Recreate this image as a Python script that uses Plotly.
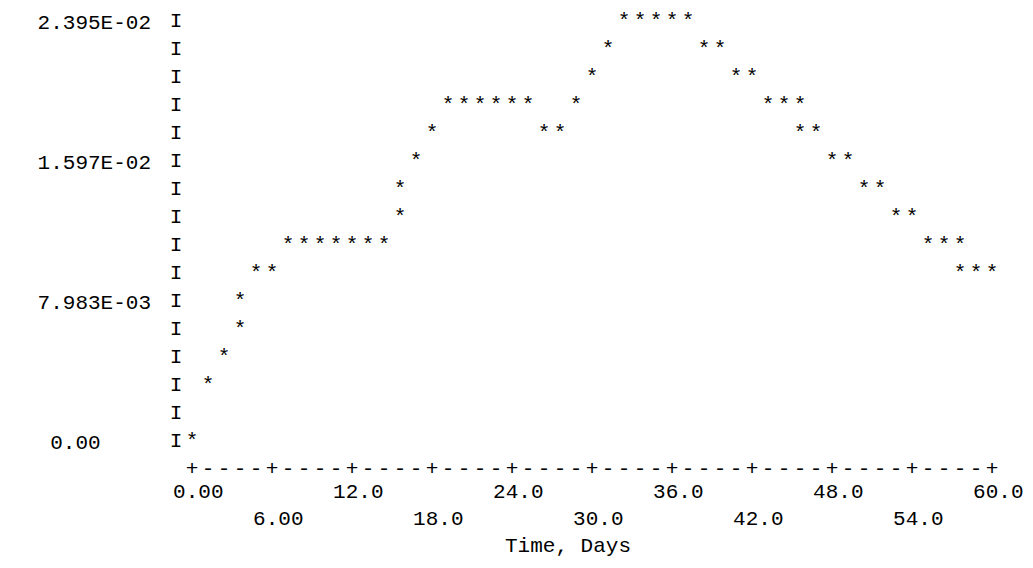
import plotly.graph_objects as go

# Line-printer style plot of a quantity against time
FONT = "Courier New, Liberation Mono, monospace"

days = [0.0, 1.2, 2.4, 3.6, 3.6, 4.8, 6.0,
        7.2, 8.4, 9.6, 10.8, 12.0, 13.2, 14.4,
        15.6, 15.6, 16.8, 18.0,
        19.2, 20.4, 21.6, 22.8, 24.0, 25.2,
        26.4, 27.6, 28.8, 30.0, 31.2,
        32.4, 33.6, 34.8, 36.0, 37.2,
        38.4, 39.6, 40.8, 42.0,
        43.2, 44.4, 45.6, 45.6, 46.8,
        48.0, 49.2, 50.4, 51.6, 52.8, 54.0,
        55.2, 56.4, 57.6, 57.6, 58.8, 60.0]

values = [0.0, 0.00319, 0.00479, 0.00639, 0.00798, 0.00958, 0.00958,
          0.01118, 0.01118, 0.01118, 0.01118, 0.01118, 0.01118, 0.01118,
          0.01277, 0.01437, 0.01597, 0.01756,
          0.01916, 0.01916, 0.01916, 0.01916, 0.01916, 0.01916,
          0.01756, 0.01756, 0.01916, 0.02076, 0.02235,
          0.02395, 0.02395, 0.02395, 0.02395, 0.02395,
          0.02235, 0.02235, 0.02076, 0.02076,
          0.01916, 0.01916, 0.01916, 0.01756, 0.01756,
          0.01597, 0.01597, 0.01437, 0.01437, 0.01277, 0.01277,
          0.01118, 0.01118, 0.01118, 0.00958, 0.00958, 0.00958]

x_ticks = [0, 6, 12, 18, 24, 30, 36, 42, 48, 54, 60]
x_labels = ["0.00", "6.00", "12.0", "18.0", "24.0", "30.0",
            "36.0", "42.0", "48.0", "54.0", "60.0"]

y_ticks = [0.02395, 0.01597, 0.007983, 0.0]
y_labels = ["2.395E-02", "1.597E-02", "7.983E-03", " 0.00    "]

y_max = 0.02395
n_rows = 15
row = y_max / n_rows       # one printer line
col = 1.2                  # one printer column (days)
nb = "\u00a0"

fig = go.Figure()

# the plotted points
fig.add_trace(go.Scatter(
    x=days, y=values, mode="text", text=["*"] * len(days),
    textposition="middle center",
    textfont=dict(family=FONT, size=21, color="black"),
    hoverinfo="skip", showlegend=False))

# "I" column of the y axis
rows = [i * row for i in range(n_rows + 1)]
fig.add_trace(go.Scatter(
    x=[-col] * len(rows), y=rows, mode="text", text=["I"] * len(rows),
    textposition="middle center",
    textfont=dict(family=FONT, size=21, color="black"),
    hoverinfo="skip", showlegend=False))

# "+----+" line of the x axis
n_cols = int(round(x_ticks[-1] / col))
fig.add_trace(go.Scatter(
    x=[c * col for c in range(n_cols + 1)], y=[-row] * (n_cols + 1),
    mode="text",
    text=["+" if c % 5 == 0 else "-" for c in range(n_cols + 1)],
    textposition="middle center",
    textfont=dict(family=FONT, size=21, color="black"),
    hoverinfo="skip", showlegend=False))

# alternate the x tick labels over two printer lines
x_text = []
for i, lab in enumerate(x_labels):
    if i % 2 == 0:
        x_text.append(nb + lab)
    else:
        x_text.append(nb + "<br>" + nb + lab)

fig.update_layout(
    width=1033, height=568,
    margin=dict(l=152, r=33, t=0, b=92),
    paper_bgcolor="white", plot_bgcolor="white",
    showlegend=False,
    font=dict(family=FONT, size=21, color="black"),
)

fig.update_xaxes(
    range=[-2 * col, x_ticks[-1] + col],
    tickmode="array", tickvals=x_ticks, ticktext=x_text,
    tickangle=0, ticks="", showgrid=False, zeroline=False, showline=False,
    ticklabelstandoff=-8,
    tickfont=dict(family=FONT, size=21, color="black"),
)

fig.update_yaxes(
    range=[-1.5 * row, y_max + 0.5 * row],
    tickmode="array", tickvals=y_ticks,
    ticktext=[t.replace(" ", nb) for t in y_labels],
    ticks="", showgrid=False, zeroline=False, showline=False,
    ticklabelstandoff=8,
    tickfont=dict(family=FONT, size=21, color="black"),
)

fig.add_annotation(
    text="Time, Days", xref="x", yref="paper", x=28.2, y=-0.1303,
    showarrow=False, xanchor="center", yanchor="middle",
    font=dict(family=FONT, size=21, color="black"),
)

fig.write_html("out.html")
